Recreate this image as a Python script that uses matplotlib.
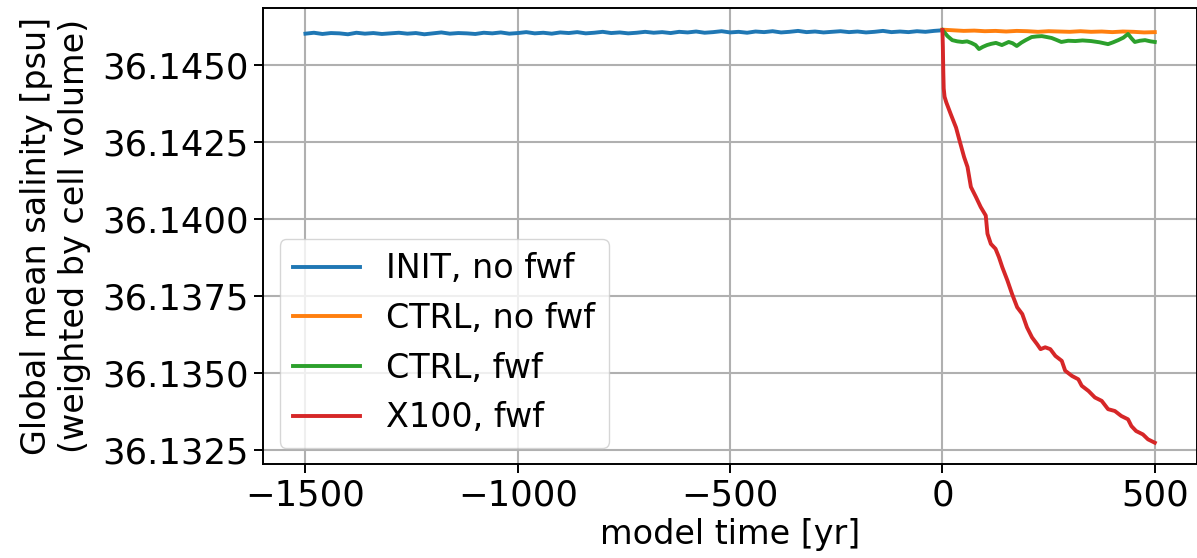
import numpy as np
import matplotlib
matplotlib.use("Agg")
import matplotlib.pyplot as plt
from matplotlib.ticker import FormatStrFormatter, MultipleLocator

# INIT spin-up, no freshwater forcing (every 20 yr)
init_years = np.arange(-1500, 1, 20)
init_sal = [
    36.14603, 36.14606, 36.14602, 36.14605, 36.14604, 36.14601, 36.14606, 36.14603, 36.14605, 36.14602,
    36.14604, 36.14606, 36.14603, 36.14605, 36.14601, 36.14604, 36.14607, 36.14603, 36.14605, 36.14604,
    36.14602, 36.14606, 36.14604, 36.14607, 36.14603, 36.14605, 36.14608, 36.14604, 36.14606, 36.14603,
    36.14607, 36.14605, 36.14608, 36.14604, 36.14606, 36.14609, 36.14605, 36.14607, 36.14604, 36.14606,
    36.14609, 36.14606, 36.14608, 36.14605, 36.14609, 36.14607, 36.14610, 36.14606, 36.14608, 36.14611,
    36.14607, 36.14609, 36.14606, 36.14610, 36.14608, 36.14611, 36.14607, 36.14609, 36.14612, 36.14608,
    36.14610, 36.14607, 36.14609, 36.14611, 36.14608, 36.14610, 36.14607, 36.14609, 36.14612, 36.14608,
    36.14610, 36.14608, 36.14611, 36.14609, 36.14612, 36.14614,
]

# CTRL, no fwf (every 25 yr)
ctrl_years = np.arange(0, 501, 25)
ctrl_sal = [36.14616, 36.14614, 36.14612, 36.14613, 36.14611, 36.14612, 36.14610, 36.14612,
            36.14611, 36.14609, 36.14611, 36.14610, 36.14609, 36.14611, 36.14609, 36.14610,
            36.14608, 36.14610, 36.14609, 36.14607, 36.14608]

# CTRL, fwf
ctrlf_years = [0, 12, 23, 35, 47, 58, 68, 78, 86, 95, 105, 115, 126, 140, 156, 165, 175, 186,
               196, 210, 222, 234, 246, 257, 268, 280, 296, 313, 330, 350, 370, 390, 402, 414,
               426, 437, 445, 453, 465, 477, 490, 500]
ctrlf_sal = [36.14615, 36.14595, 36.14582, 36.14578, 36.14576, 36.14578, 36.14573, 36.14566,
             36.14553, 36.14560, 36.14566, 36.14570, 36.14573, 36.14566, 36.14576, 36.14572,
             36.14563, 36.14574, 36.14582, 36.14592, 36.14594, 36.14595, 36.14592, 36.14589,
             36.14583, 36.14576, 36.14580, 36.14579, 36.14581, 36.14579, 36.14575, 36.14569,
             36.14575, 36.14582, 36.14590, 36.14602, 36.14588, 36.14576, 36.14580, 36.14582,
             36.14578, 36.14576]

# X100, fwf
x100_years = [0, 1, 2, 3, 5, 9, 20, 32, 40, 51, 59, 67, 79, 90, 102, 106, 114, 125, 133, 141,
              153, 164, 176, 188, 199, 211, 223, 231, 242, 254, 266, 281, 289, 305, 320, 328,
              344, 359, 375, 390, 406, 421, 437, 445, 456, 472, 484, 500]
x100_sal = [36.14615, 36.14560, 36.14480, 36.14425, 36.14398, 36.14380, 36.14340, 36.14298,
            36.14257, 36.14202, 36.14170, 36.14105, 36.14072, 36.14040, 36.14012, 36.13953,
            36.13920, 36.13904, 36.13877, 36.13844, 36.13801, 36.13757, 36.13714, 36.13692,
            36.13649, 36.13616, 36.13594, 36.13578, 36.13584, 36.13578, 36.13556, 36.13540,
            36.13508, 36.13491, 36.13480, 36.13459, 36.13442, 36.13421, 36.13410, 36.13383,
            36.13377, 36.13361, 36.13350, 36.13328, 36.13312, 36.13301, 36.13285, 36.13274]

plt.rcParams['axes.linewidth'] = 1.4

fig = plt.figure(figsize=(11.97, 5.58), dpi=100)
ax = fig.add_axes([0.2197, 0.168, 0.7805, 0.818])

lw = 2.8
ax.plot(init_years, init_sal, color='tab:blue', lw=lw, label='INIT, no fwf')
ax.plot(ctrl_years, ctrl_sal, color='tab:orange', lw=lw, label='CTRL, no fwf')
ax.plot(ctrlf_years, ctrlf_sal, color='tab:green', lw=lw, label='CTRL, fwf')
ax.plot(x100_years, x100_sal, color='tab:red', lw=lw, label='X100, fwf')

ax.set_xlim(-1600, 600)
ax.set_ylim(36.13204, 36.14687)
ax.xaxis.set_major_locator(MultipleLocator(500))
ax.yaxis.set_major_locator(MultipleLocator(0.0025))
ax.yaxis.set_major_formatter(FormatStrFormatter('%.4f'))
ax.tick_params(labelsize=25.5, length=6.5, width=1.4)
ax.grid(True, color='#b0b0b0', lw=1.5)

ax.set_xlabel('model time [yr]', fontsize=24)
ax.set_ylabel('Global mean salinity [psu]\n(weighted by cell volume)', fontsize=24, labelpad=8)
ax.legend(loc='lower left', fontsize=24, handlelength=2.0)

fig.savefig('out.png', dpi=100)
